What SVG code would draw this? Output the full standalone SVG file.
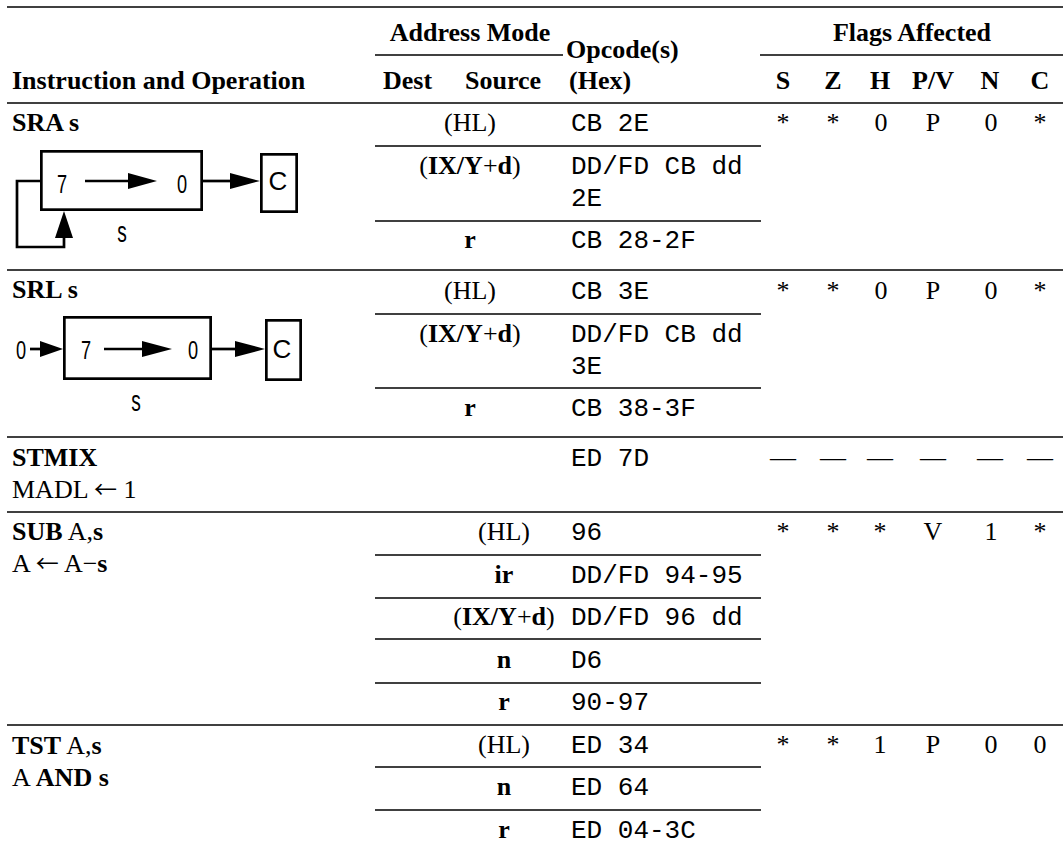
<svg xmlns="http://www.w3.org/2000/svg" width="1063" height="849" viewBox="0 0 1063 849">
<style>
.b{font-family:"Liberation Serif","Times New Roman",serif;font-weight:bold;font-size:26px;fill:#000}
.r{font-family:"Liberation Serif","Times New Roman",serif;font-size:26px;fill:#000}
.m{font-family:"Liberation Mono","Courier New",monospace;font-size:26px;fill:#000}
.h{font-family:"Liberation Sans",Arial,sans-serif;font-size:26px;fill:#000}
.hs{font-family:"Liberation Sans",Arial,sans-serif;font-size:29px;fill:#000}
.c{text-anchor:middle}
.rule{stroke:#000;stroke-width:1.5}
.dg{fill:none;stroke:#000;stroke-width:2.7}
.ah{fill:#000;stroke:none}
.bd{font-weight:bold}
.arw{font-family:"Noto Sans CJK JP","Noto Sans CJK SC",sans-serif;font-size:23px;font-weight:normal}
</style>
<rect width="1063" height="849" fill="#fff"/>

<g id="rules">
<line class="rule" x1="7" y1="7" x2="1063" y2="7"/>
<line class="rule" x1="375" y1="55" x2="563" y2="55"/>
<line class="rule" x1="760" y1="55" x2="1063" y2="55"/>
<line class="rule" x1="7" y1="103" x2="1063" y2="103"/>
<line class="rule" x1="375" y1="146" x2="761" y2="146"/>
<line class="rule" x1="375" y1="221" x2="761" y2="221"/>
<line class="rule" x1="7" y1="270" x2="1063" y2="270"/>
<line class="rule" x1="375" y1="314" x2="761" y2="314"/>
<line class="rule" x1="375" y1="388" x2="761" y2="388"/>
<line class="rule" x1="7" y1="437" x2="1063" y2="437"/>
<line class="rule" x1="7" y1="512" x2="1063" y2="512"/>
<line class="rule" x1="375" y1="555" x2="761" y2="555"/>
<line class="rule" x1="375" y1="598" x2="761" y2="598"/>
<line class="rule" x1="375" y1="639" x2="761" y2="639"/>
<line class="rule" x1="375" y1="683" x2="761" y2="683"/>
<line class="rule" x1="7" y1="725" x2="1063" y2="725"/>
<line class="rule" x1="375" y1="767" x2="761" y2="767"/>
<line class="rule" x1="375" y1="810" x2="761" y2="810"/>
</g>

<g id="header">
<text class="b c" x="470" y="41">Address Mode</text>
<text class="b" x="566" y="58">Opcode(s)</text>
<text class="b c" x="912" y="41">Flags Affected</text>
<text class="b" x="12" y="89">Instruction and Operation</text>
<text class="b" x="383" y="89">Dest</text>
<text class="b" x="465" y="89">Source</text>
<text class="b" x="569" y="89">(Hex)</text>
<text class="b c" x="783" y="89">S</text>
<text class="b c" x="833" y="89">Z</text>
<text class="b c" x="880" y="89">H</text>
<text class="b c" x="933" y="89">P/V</text>
<text class="b c" x="990" y="89">N</text>
<text class="b c" x="1040" y="89">C</text>
</g>

<g id="row-sra">
<text class="b" x="12" y="131">SRA s</text>
<text class="r c" x="470" y="131">(HL)</text>
<text class="m" x="571" y="131">CB 2E</text>
<text class="r c" x="470" y="174">(<tspan class="bd">IX/Y</tspan>+<tspan class="bd">d</tspan>)</text>
<text class="m" x="571" y="174">DD/FD CB dd</text>
<text class="m" x="571" y="206">2E</text>
<text class="b c" x="470" y="248">r</text>
<text class="m" x="571" y="248">CB 28-2F</text>
<text class="r c" x="783" y="131">*</text>
<text class="r c" x="833" y="131">*</text>
<text class="r c" x="881" y="131">0</text>
<text class="r c" x="933" y="131">P</text>
<text class="r c" x="991" y="131">0</text>
<text class="r c" x="1040" y="131">*</text>
</g>

<g id="diagram-sra">
<rect class="dg" x="41.35" y="151.35" width="160.3" height="58.3"/>
<rect class="dg" x="261.35" y="154.35" width="35.3" height="57.3"/>
<text class="h c" transform="translate(62,193) scale(0.7,1)">7</text>
<text class="h c" transform="translate(182,193) scale(0.7,1)">0</text>
<text class="h c" x="278" y="190">C</text>
<text class="hs c" transform="translate(122,242) scale(0.66,1)">s</text>
<g id="connectors-sra">
<line class="dg" x1="85" y1="181" x2="130" y2="181"/>
<polygon class="ah" points="128,173 157,181 128,189"/>
<line class="dg" x1="203" y1="181" x2="232" y2="181"/>
<polygon class="ah" points="230,173 260,181 230,189"/>
<polyline class="dg" points="40,181 17,181 17,247 64,247 64,236"/>
<polygon class="ah" points="55,238 64,211 73,238"/>
</g>
</g>

<g id="row-srl">
<text class="b" x="12" y="298">SRL s</text>
<text class="r c" x="470" y="299">(HL)</text>
<text class="m" x="571" y="299">CB 3E</text>
<text class="r c" x="470" y="342">(<tspan class="bd">IX/Y</tspan>+<tspan class="bd">d</tspan>)</text>
<text class="m" x="571" y="342">DD/FD CB dd</text>
<text class="m" x="571" y="374">3E</text>
<text class="b c" x="470" y="416">r</text>
<text class="m" x="571" y="416">CB 38-3F</text>
<text class="r c" x="783" y="299">*</text>
<text class="r c" x="833" y="299">*</text>
<text class="r c" x="881" y="299">0</text>
<text class="r c" x="933" y="299">P</text>
<text class="r c" x="991" y="299">0</text>
<text class="r c" x="1040" y="299">*</text>
</g>

<g id="diagram-srl">
<rect class="dg" x="64.35" y="317.35" width="146.3" height="61.3"/>
<rect class="dg" x="266.35" y="320.35" width="34.3" height="59.3"/>
<text class="h c" transform="translate(21,359) scale(0.7,1)">0</text>
<text class="h c" transform="translate(86,359) scale(0.7,1)">7</text>
<text class="h c" transform="translate(193,359) scale(0.7,1)">0</text>
<text class="h c" x="282" y="358">C</text>
<text class="hs c" transform="translate(136,411) scale(0.66,1)">s</text>
<g id="connectors-srl">
<line class="dg" x1="30" y1="349" x2="42" y2="349"/>
<polygon class="ah" points="40,341 63,349 40,357"/>
<line class="dg" x1="104" y1="349" x2="144" y2="349"/>
<polygon class="ah" points="142,341 172,349 142,357"/>
<line class="dg" x1="212" y1="349" x2="237" y2="349"/>
<polygon class="ah" points="235,341 265,349 235,357"/>
</g>
</g>

<g id="row-stmix">
<text class="b" x="12" y="466">STMIX</text>
<text class="r" x="12" y="498">MADL <tspan class="arw">←</tspan> 1</text>
<text class="m" x="571" y="466">ED 7D</text>
<text class="r c" x="783" y="466">—</text>
<text class="r c" x="833" y="466">—</text>
<text class="r c" x="880" y="466">—</text>
<text class="r c" x="933" y="466">—</text>
<text class="r c" x="990" y="466">—</text>
<text class="r c" x="1040" y="466">—</text>
</g>

<g id="row-sub">
<text class="r" x="12" y="540"><tspan class="bd">SUB</tspan> A,<tspan class="bd">s</tspan></text>
<text class="r" x="12" y="572">A <tspan class="arw">←</tspan> A−<tspan class="bd">s</tspan></text>
<text class="r c" x="504" y="540">(HL)</text>
<text class="m" x="571" y="540">96</text>
<text class="b c" x="504" y="583">ir</text>
<text class="m" x="571" y="583">DD/FD 94-95</text>
<text class="r c" x="504" y="625">(<tspan class="bd">IX/Y</tspan>+<tspan class="bd">d</tspan>)</text>
<text class="m" x="571" y="625">DD/FD 96 dd</text>
<text class="b c" x="504" y="668">n</text>
<text class="m" x="571" y="668">D6</text>
<text class="b c" x="504" y="710">r</text>
<text class="m" x="571" y="710">90-97</text>
<text class="r c" x="783" y="540">*</text>
<text class="r c" x="833" y="540">*</text>
<text class="r c" x="880" y="540">*</text>
<text class="r c" x="933" y="540">V</text>
<text class="r c" x="991" y="540">1</text>
<text class="r c" x="1040" y="540">*</text>
</g>

<g id="row-tst">
<text class="r" x="12" y="754"><tspan class="bd">TST</tspan> A,<tspan class="bd">s</tspan></text>
<text class="r" x="12" y="786">A <tspan class="bd">AND s</tspan></text>
<text class="r c" x="504" y="753">(HL)</text>
<text class="m" x="571" y="753">ED 34</text>
<text class="b c" x="504" y="795">n</text>
<text class="m" x="571" y="795">ED 64</text>
<text class="b c" x="504" y="838">r</text>
<text class="m" x="571" y="838">ED 04-3C</text>
<text class="r c" x="783" y="753">*</text>
<text class="r c" x="833" y="753">*</text>
<text class="r c" x="880" y="753">1</text>
<text class="r c" x="933" y="753">P</text>
<text class="r c" x="991" y="753">0</text>
<text class="r c" x="1040" y="753">0</text>
</g>
</svg>
